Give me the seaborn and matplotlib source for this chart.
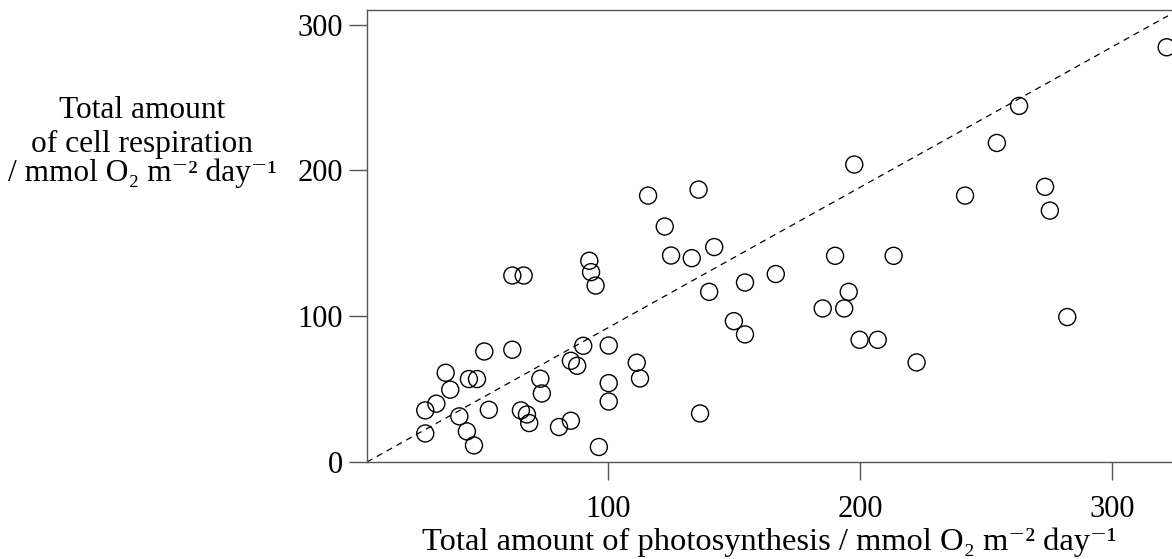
import matplotlib
matplotlib.use("Agg")
import matplotlib.pyplot as plt
import seaborn as sns
import pandas as pd

# photosynthesis (x) vs respiration (y), mmol O2 m-2 day-1
photosynthesis = [51.1, 62.2, 35.8, 45.0, 48.2, 37.6, 32.1, 27.7, 27.7, 41.2,
                  44.2, 47.0, 52.9, 65.6, 68.0, 68.9, 73.3, 73.9, 80.7, 85.4,
                  87.9, 90.3, 100.4, 111.5, 112.8, 100.4, 100.4, 85.4, 96.5, 136.6,
                  154.4, 62.2, 66.7, 116.0, 136.0, 122.6, 125.1, 133.3, 142.2, 92.7,
                  93.4, 95.2, 140.2, 154.4, 150.0, 195.5, 185.2, 193.7, 199.8, 207.0,
                  222.4, 197.7, 190.1, 213.3, 166.6, 241.6, 263.0, 254.2, 273.3, 275.2,
                  282.1, 321.5]
respiration = [75.8, 77.0, 61.2, 56.9, 56.9, 49.6, 40.0, 35.4, 19.6, 31.3,
               21.0, 11.4, 35.8, 35.4, 32.6, 26.7, 57.1, 47.0, 24.0, 69.4,
               66.0, 79.7, 79.9, 68.1, 57.3, 54.1, 41.5, 28.3, 10.3, 33.3,
               87.5, 127.9, 127.9, 182.7, 186.8, 161.5, 141.6, 139.8, 147.4, 138.0,
               130.2, 121.0, 116.7, 123.1, 96.6, 116.7, 105.3, 105.3, 83.8, 83.8,
               68.3, 204.0, 141.4, 141.4, 128.9, 182.7, 244.2, 218.8, 188.7, 172.4,
               99.4, 284.4]

# 1:1 reference line
ref_x = [4.6, 322]
ref_y = [0, 306]

x_ticks = [100, 200, 300]
y_ticks = [0, 100, 200, 300]

unit = "/ mmol O\u2082 m\u207b\u00b2 day\u207b\u00b9"
xlabel = "Total amount of photosynthesis " + unit
ylabel_lines = ["Total amount", "of cell respiration", unit]

df = pd.DataFrame({"P": photosynthesis, "R": respiration})

sns.set_style("white")
plt.rcParams["font.family"] = ["Liberation Serif", "DejaVu Serif"]
plt.rcParams["text.color"] = "black"
plt.rcParams["axes.labelcolor"] = "black"

fig = plt.figure(figsize=(11.72, 5.59), dpi=100)
ax = fig.add_axes([0.3131, 0.1735, 1.0 - 0.3131, 0.8087])

sns.lineplot(x=ref_x, y=ref_y, ax=ax, color="black", linewidth=0.9,
             linestyle=(0, (5, 4)))
sns.scatterplot(data=df, x="P", y="R", ax=ax, marker="o", s=150,
                facecolors="none", edgecolors="black", linewidth=1.0,
                zorder=3)

ax.set_xlim(4.6, 323.6)
ax.set_ylim(0, 310)
ax.set_xticks(x_ticks)
ax.set_yticks(y_ticks)

for side in ["left", "bottom", "top"]:
    ax.spines[side].set_color("#555555")
    ax.spines[side].set_linewidth(1.0)
ax.spines["right"].set_visible(False)

ax.tick_params(axis="both", direction="out", length=13, width=1.0,
               color="#555555", labelcolor="black", labelsize=22,
               bottom=True, left=True)
ax.tick_params(axis="y", pad=4)
ax.tick_params(axis="x", pad=11)

ax.set_xlabel(xlabel, fontsize=23.4, labelpad=2)
ax.set_ylabel("")

# y label as three centred lines to the left of the axis
for line, y_base in zip(ylabel_lines, [0.7889, 0.7281, 0.6762]):
    fig.text(142 / 1172, y_base, line, fontsize=22.6, ha="center",
             va="baseline", color="black")

fig.savefig("out.png", dpi=100)
